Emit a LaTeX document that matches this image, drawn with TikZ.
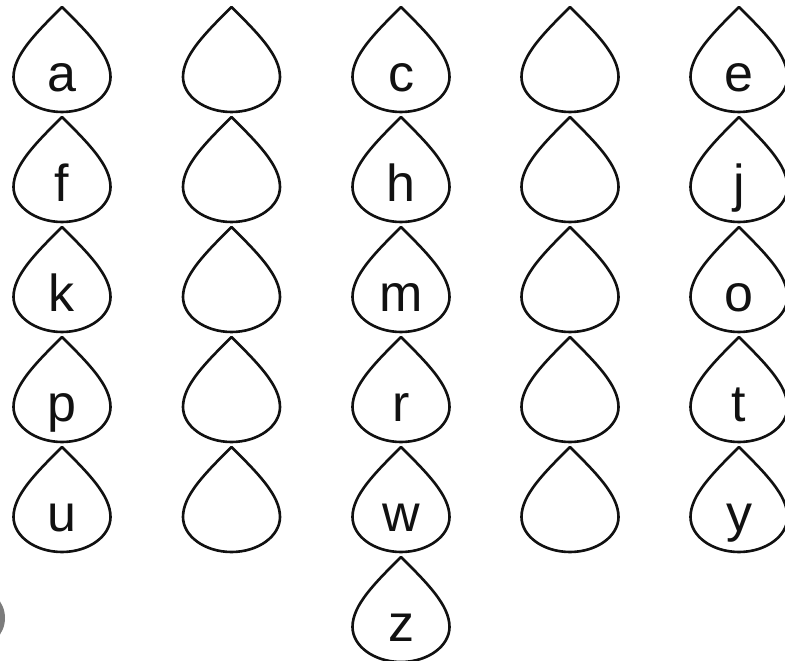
\documentclass[tikz,border=0pt]{standalone}
\usepackage{fontspec}
\setmainfont{Liberation Sans}
\usetikzlibrary{positioning}
\definecolor{ink}{HTML}{111111}
\definecolor{blobgray}{HTML}{7C7C7C}

\tikzset{
  droplet/.pic={
    \draw[ink,line width=1.5pt,line join=round]
      (0,0) .. controls (-26,-26) and (-48.5,-48) .. (-48.5,-70)
      .. controls (-48.5,-89) and (-27,-105) .. (0,-105)
      .. controls (27,-105) and (48.5,-89) .. (48.5,-70)
      .. controls (48.5,-48) and (26,-26) .. cycle;
  },
  letter/.style={font=\fontsize{29.6}{30}\selectfont,text=ink,anchor=base,inner sep=0pt}
}

\begin{document}
\begin{tikzpicture}[x=0.02cm,y=0.02cm]
        \useasboundingbox (0,0) rectangle (785,661);
        % five columns of drops, five rows
        \foreach \cx in {62,231.5,401,570,739}
          \foreach \ty in {654,544,434,324,214}
            \pic at (\cx,\ty) {droplet};
        \pic at (401,104) {droplet};
        % letters in the first, middle and last column
        \foreach \ch/\cx/\ty in {a/62/654,c/401/654,e/739/654,
                                 f/62/544,h/401/544,j/739/544,
                                 k/62/434,m/401/434,o/739/434,
                                 p/62/324,r/401/324,t/739/324,
                                 u/62/214,w/401/214,y/739/214,
                                 z/401/104}
          \node[letter] (let-\ch) at (\cx,\ty-85) {\ch};
        % grey blob cut by the left edge
        \fill[blobgray] (-25,43) circle (30);
      \end{tikzpicture}
\end{document}
